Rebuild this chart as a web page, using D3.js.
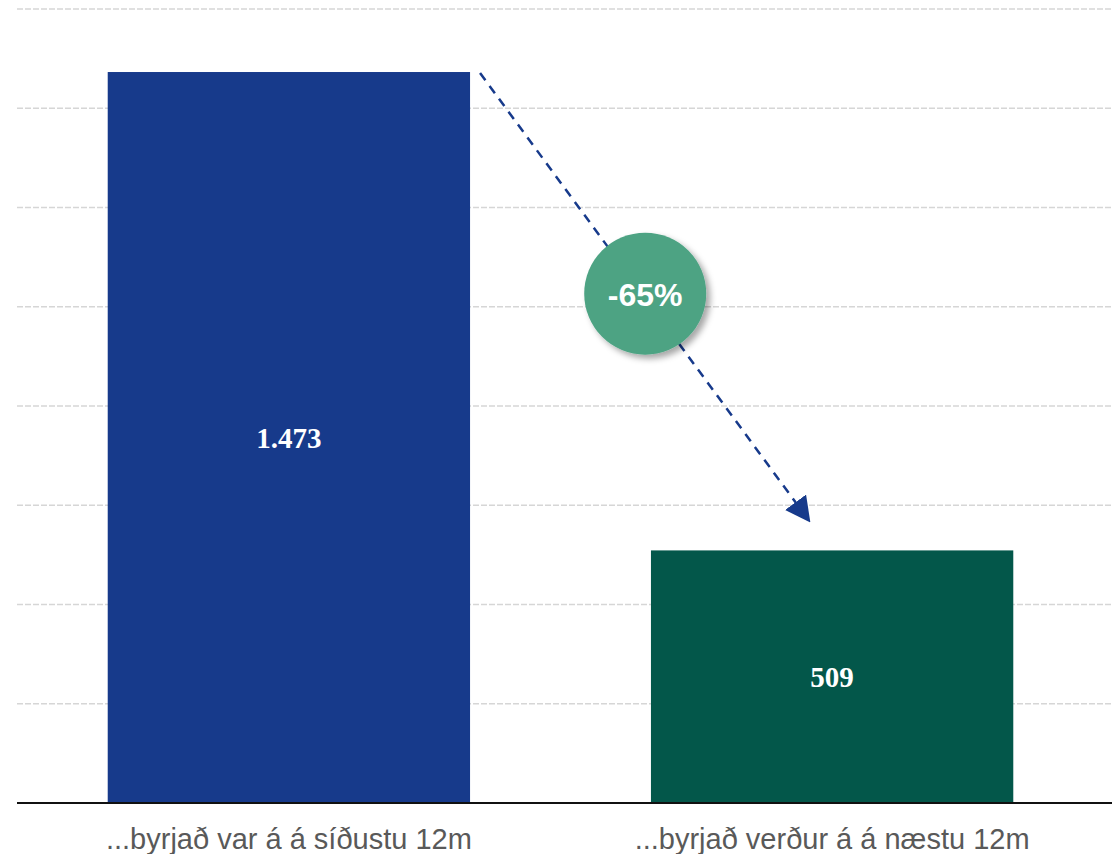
<!DOCTYPE html>
<html>
<head>
<meta charset="utf-8">
<script src="https://cdn.jsdelivr.net/npm/d3@7"></script>
<style>
  body { margin: 0; background: #fff; }
  svg { display: block; }
</style>
</head>
<body>
<div id="chart"></div>
<script>
const categories = ['...byrjað var á á síðustu 12m', '...byrjað verður á á næstu 12m'];
const values = [1473, 509];
const valueLabels = ['1.473', '509'];
const barColors = ['#173a8b', '#03574a'];
const gridTicks = [200, 400, 600, 800, 1000, 1200, 1400, 1600];
const changeLabel = '-65%';

const width = 1112, height = 854;
const plotLeft = 17, plotRight = 1112, plotTop = 9, plotBottom = 803;

const svg = d3.select('#chart').append('svg')
  .attr('width', width)
  .attr('height', height);

const defs = svg.append('defs');
const shadow = defs.append('filter').attr('id', 'shadow')
  .attr('x', '-30%').attr('y', '-30%').attr('width', '160%').attr('height', '160%');
shadow.append('feDropShadow')
  .attr('dx', 4).attr('dy', 4).attr('stdDeviation', 3)
  .attr('flood-color', '#000').attr('flood-opacity', 0.35);

defs.append('marker')
  .attr('id', 'arrow')
  .attr('viewBox', '0 0 10 10')
  .attr('refX', 10).attr('refY', 5)
  .attr('markerWidth', 25).attr('markerHeight', 26)
  .attr('markerUnits', 'userSpaceOnUse')
  .attr('orient', 'auto')
  .attr('preserveAspectRatio', 'none')
  .append('path')
  .attr('d', 'M0,0 L10,5 L0,10 z')
  .attr('fill', '#173a8b');

const x = d3.scaleBand()
  .domain(categories)
  .range([plotLeft, 1104])
  .paddingInner(0.333)
  .paddingOuter(0.167);

const y = d3.scaleLinear()
  .domain([0, 1600])
  .range([plotBottom, plotTop]);

// gridlines
svg.append('g')
  .selectAll('line')
  .data(gridTicks)
  .enter().append('line')
  .attr('x1', plotLeft).attr('x2', plotRight)
  .attr('y1', d => y(d)).attr('y2', d => y(d))
  .attr('stroke', '#d6d6d6')
  .attr('stroke-width', 1.5)
  .attr('stroke-dasharray', '6,2');

// bars
svg.append('g')
  .selectAll('rect')
  .data(values)
  .enter().append('rect')
  .attr('x', (d, i) => x(categories[i]))
  .attr('y', d => y(d))
  .attr('width', x.bandwidth())
  .attr('height', d => y(0) - y(d))
  .attr('fill', (d, i) => barColors[i]);

// value labels
svg.append('g')
  .selectAll('text')
  .data(values)
  .enter().append('text')
  .attr('x', (d, i) => x(categories[i]) + x.bandwidth() / 2)
  .attr('y', d => (y(d) + y(0)) / 2 + 10)
  .attr('text-anchor', 'middle')
  .attr('font-family', '"Liberation Serif", "Times New Roman", serif')
  .attr('font-weight', 'bold')
  .attr('font-size', 29)
  .attr('fill', '#fff')
  .text((d, i) => valueLabels[i]);

// baseline
svg.append('line')
  .attr('x1', plotLeft).attr('x2', plotRight)
  .attr('y1', y(0)).attr('y2', y(0))
  .attr('stroke', '#111')
  .attr('stroke-width', 2);

// x axis labels
svg.append('g')
  .selectAll('text')
  .data(categories)
  .enter().append('text')
  .attr('x', d => x(d) + x.bandwidth() / 2)
  .attr('y', 849)
  .attr('text-anchor', 'middle')
  .attr('font-family', '"Liberation Sans", Arial, sans-serif')
  .attr('font-size', 29)
  .attr('fill', '#595959')
  .text(d => d);

// arrow from first bar top to above second bar
const x0 = x(categories[0]) + x.bandwidth() + 10;
const y0 = y(values[0]) + 1;
const x1 = x(categories[1]) + x.bandwidth() * 0.44;
const y1 = y(values[1]) - 28;

svg.append('line')
  .attr('x1', x0).attr('y1', y0)
  .attr('x2', x1).attr('y2', y1)
  .attr('stroke', '#173a8b')
  .attr('stroke-width', 2.5)
  .attr('stroke-dasharray', '9,7')
  .attr('marker-end', 'url(#arrow)');

// change bubble
const cx = (x0 + x1) / 2, cy = (y0 + y1) / 2 - 4;
svg.append('circle')
  .attr('cx', cx).attr('cy', cy)
  .attr('r', 61)
  .attr('fill', '#4da383')
  .attr('filter', 'url(#shadow)');

svg.append('text')
  .attr('x', cx).attr('y', cy + 12)
  .attr('text-anchor', 'middle')
  .attr('font-family', '"Liberation Sans", Arial, sans-serif')
  .attr('font-weight', 'bold')
  .attr('font-size', 32)
  .attr('fill', '#fff')
  .text(changeLabel);
</script>
</body>
</html>
